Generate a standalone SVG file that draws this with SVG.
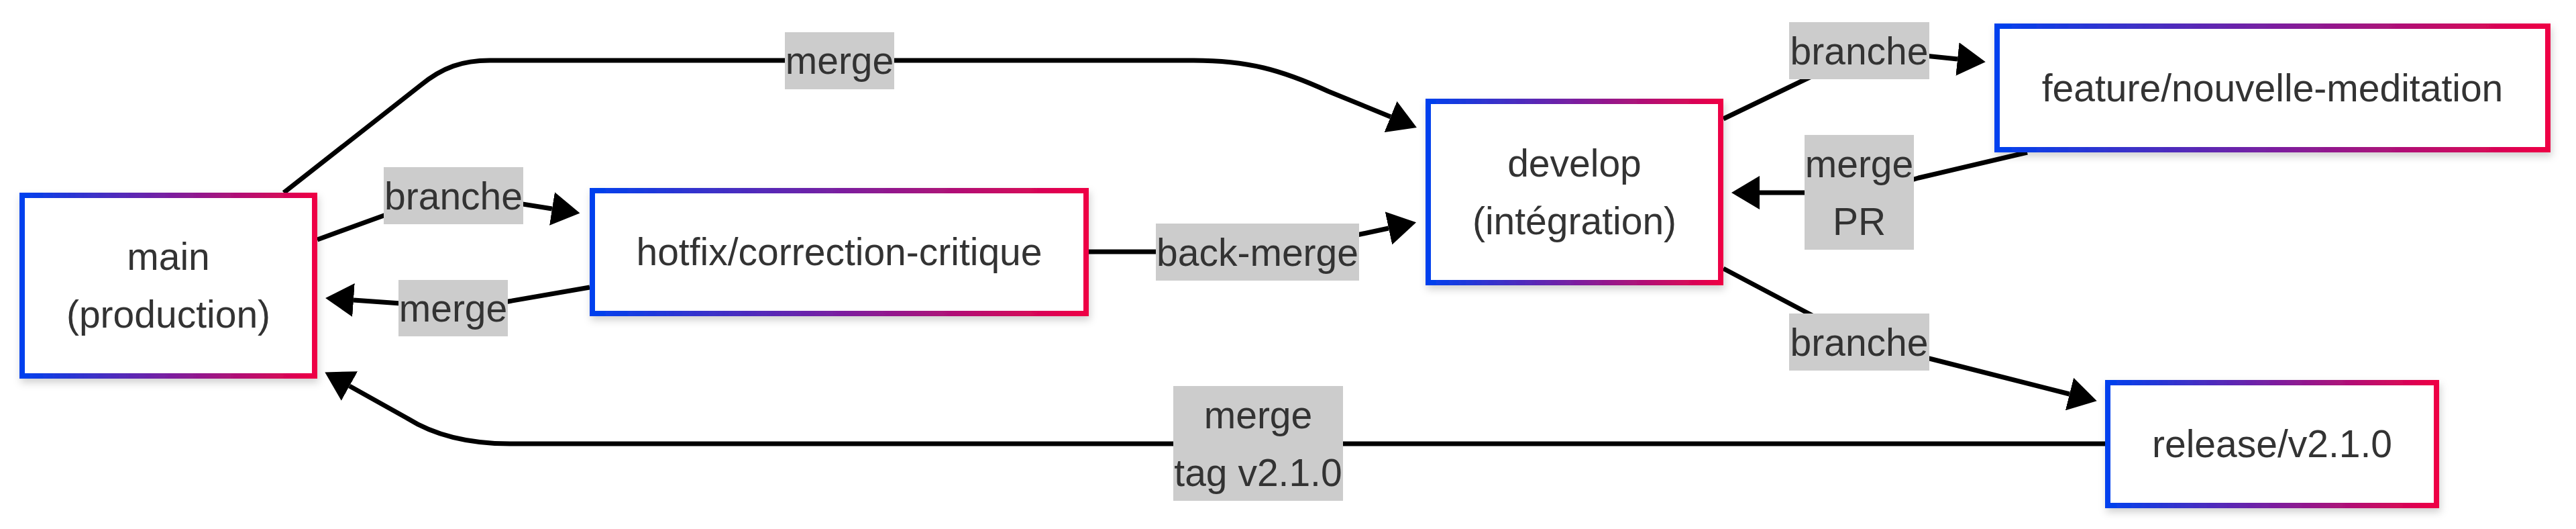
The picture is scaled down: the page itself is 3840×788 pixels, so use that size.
<svg xmlns="http://www.w3.org/2000/svg" width="3840" height="788" viewBox="0 0 3840 788">
<defs>
<linearGradient id="grad" x1="0" y1="0" x2="1" y2="0">
<stop offset="0" stop-color="#0041EE"/>
<stop offset="0.5" stop-color="#7A1FA0"/>
<stop offset="1" stop-color="#EE0045"/>
</linearGradient>
<filter id="shadow" x="-10%" y="-10%" width="120%" height="130%">
<feDropShadow dx="2" dy="6" stdDeviation="6" flood-color="#000" flood-opacity="0.18"/>
</filter>
<marker id="arrow" markerUnits="userSpaceOnUse" viewBox="0 0 42 50" markerWidth="42" markerHeight="50" refX="0" refY="25" orient="auto">
<path d="M0,0 L42,25 L0,50 z" fill="#000"/>
</marker>
</defs>
<style>
.node rect { fill: #fff; stroke: url(#grad); stroke-width: 8; filter: url(#shadow); }
.node text, .lbl text { font-family: "Liberation Sans", Arial, sans-serif; font-size: 57px; fill: #333; text-anchor: middle; }
.edge { fill: none; stroke: #000; stroke-width: 7; marker-end: url(#arrow); }
.lbl rect { fill: #cccccc; }
</style>
<rect width="3840" height="788" fill="#fff"/>
<g id="connectors">
<path class="edge" d="M423,287 L627,127 C660,100 690,90 730,90 L1779,90 C1860,90 1910,104 1980,136 L2073,174"/>
<path class="edge" d="M473,357 L575,320 Q660,292 760,301 L823,311"/>
<path class="edge" d="M879,428 L758,449 Q700,458 640,455 L527,447"/>
<path class="edge" d="M1623,375 L1760,375 Q1900,375 1990,357 L2070,340"/>
<path class="edge" d="M2569,177 L2700,114 Q2770,82 2860,82 L2918,88"/>
<path class="edge" d="M3022,227 L2860,265 Q2790,287 2720,287 L2623,287"/>
<path class="edge" d="M2569,400 L2696,467 Q2770,510 2880,535 L3085,587"/>
<path class="edge" d="M3138,661 L760,661 C700,661 650,650 607,623 L521,575"/>
</g>
<g id="edge-labels">
<g class="lbl"><rect x="1170" y="48" width="163" height="85"/><text x="1251.5" y="110">merge</text></g>
<g class="lbl"><rect x="572" y="249" width="208" height="85"/><text x="676" y="312">branche</text></g>
<g class="lbl"><rect x="594" y="417" width="163" height="84"/><text x="675.5" y="479">merge</text></g>
<g class="lbl"><rect x="1723" y="333" width="303" height="85"/><text x="1874.5" y="396">back-merge</text></g>
<g class="lbl"><rect x="1749" y="575" width="253" height="171"/><text x="1875.5" y="638">merge</text><text x="1875.5" y="724">tag v2.1.0</text></g>
<g class="lbl"><rect x="2667" y="33" width="209" height="85"/><text x="2771.5" y="96">branche</text></g>
<g class="lbl"><rect x="2690" y="201" width="163" height="171"/><text x="2771.5" y="264">merge</text><text x="2771.5" y="350">PR</text></g>
<g class="lbl"><rect x="2667" y="467" width="209" height="85"/><text x="2771.5" y="530">branche</text></g>
</g>
<g id="main" class="node"><rect x="33" y="291" width="436" height="269"/><text x="251" y="402">main</text><text x="251" y="488">(production)</text></g>
<g id="hotfix" class="node"><rect x="883" y="284" width="736" height="183"/><text x="1251" y="395">hotfix/correction-critique</text></g>
<g id="develop" class="node"><rect x="2129" y="151" width="436" height="270"/><text x="2347" y="263">develop</text><text x="2347" y="349">(intégration)</text></g>
<g id="feature" class="node"><rect x="2977" y="39" width="821" height="184"/><text x="3387.5" y="151">feature/nouvelle-meditation</text></g>
<g id="release" class="node"><rect x="3142" y="570" width="490" height="183"/><text x="3387" y="681">release/v2.1.0</text></g>
</svg>
